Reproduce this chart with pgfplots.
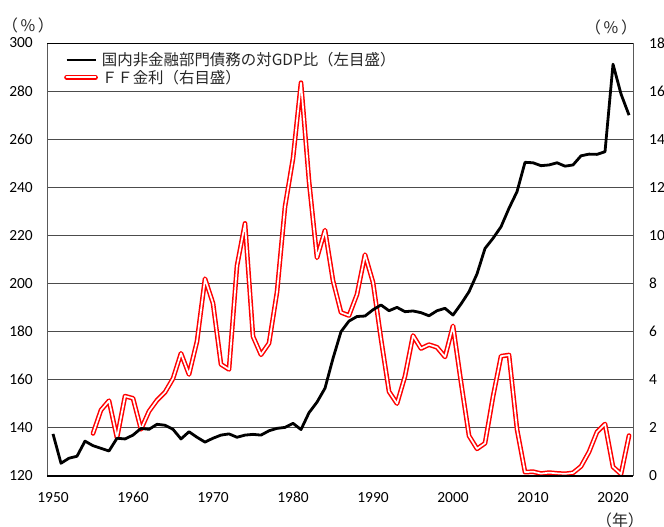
\documentclass[border=0pt]{standalone}
\usepackage{pgfplots}
\pgfplotsset{compat=1.18}
\usepackage{fontspec}
\setmainfont{Carlito}
\newfontfamily\jp{Noto Sans CJK JP}

\pgfplotstableread{
year val
1950 137.5
1951 125.3
1952 127.4
1953 128.2
1954 134.5
1955 132.6
1956 131.5
1957 130.4
1958 135.7
1959 135.4
1960 137.0
1961 139.8
1962 139.4
1963 141.5
1964 141.1
1965 139.4
1966 135.4
1967 138.4
1968 136.1
1969 134.1
1970 135.7
1971 137.0
1972 137.5
1973 136.1
1974 137.0
1975 137.3
1976 137.0
1977 138.8
1978 139.8
1979 140.2
1980 141.9
1981 139.3
1982 146.3
1983 150.7
1984 156.5
1985 168.9
1986 180.0
1987 184.4
1988 186.3
1989 186.5
1990 189.1
1991 191.1
1992 188.7
1993 190.1
1994 188.3
1995 188.6
1996 187.9
1997 186.6
1998 188.7
1999 189.7
2000 186.9
2001 191.5
2002 196.6
2003 204.0
2004 214.6
2005 218.8
2006 223.6
2007 231.3
2008 238.2
2009 250.4
2010 250.2
2011 249.0
2012 249.3
2013 250.2
2014 248.8
2015 249.3
2016 253.1
2017 253.8
2018 253.7
2019 254.8
2020 291.2
2021 278.8
2022 270.0
}\debttable

\pgfplotstableread{
year val
1955 1.77
1956 2.74
1957 3.13
1958 1.59
1959 3.32
1960 3.23
1961 1.94
1962 2.69
1963 3.15
1964 3.48
1965 4.05
1966 5.10
1967 4.22
1968 5.60
1969 8.20
1970 7.18
1971 4.64
1972 4.43
1973 8.74
1974 10.50
1975 5.80
1976 5.04
1977 5.52
1978 7.65
1979 11.20
1980 13.20
1981 16.35
1982 12.26
1983 9.07
1984 10.22
1985 8.12
1986 6.80
1987 6.67
1988 7.55
1989 9.20
1990 8.05
1991 5.70
1992 3.51
1993 3.01
1994 4.15
1995 5.84
1996 5.30
1997 5.46
1998 5.35
1999 4.95
2000 6.24
2001 3.90
2002 1.67
2003 1.13
2004 1.36
2005 3.30
2006 4.98
2007 5.03
2008 1.94
2009 0.16
2010 0.18
2011 0.10
2012 0.14
2013 0.11
2014 0.09
2015 0.13
2016 0.40
2017 1.00
2018 1.83
2019 2.16
2020 0.38
2021 0.08
2022 1.68
}\fftable

\begin{document}
\begin{tikzpicture}[x=1bp,y=1bp]
\useasboundingbox (0,0) rectangle (664,527);
\pgfplotsset{
  common/.style={
    scale only axis, width=586bp, height=433bp,
    at={(47bp,51bp)}, anchor=south west,
    xmin=1949.25, xmax=2022.5,
    /pgf/number format/assume math mode=true,
    /pgf/number format/1000 sep={},
    tick label style={font=\fontsize{15.5}{18}\selectfont, inner sep=0pt, text=black},
    clip=false,
  },
  ffstyle/.style={draw=red, double=white, double distance=1.7bp, line width=1.5bp, line join=round, line cap=round},
}
% right axis: FF rate + grid
\begin{axis}[common,
  axis x line=none, axis y line*=right,
  ymin=0, ymax=18, ytick={0,2,...,18},
  ytick style={draw=none},
  yticklabel style={anchor=west, xshift=16bp},
  ymajorgrids, grid style={black!70, line width=0.8bp},
  axis line style={draw=black!65, line width=0.8bp},
]
\addplot[ffstyle] table[x=year, y=val] {\fftable};
\end{axis}
% left axis: debt ratio
\begin{axis}[common,
  axis x line*=bottom, axis y line*=left,
  ymin=120, ymax=300, ytick={120,140,...,300},
  ytick style={draw=none},
  yticklabel style={anchor=east, xshift=-14bp},
  xtick={1950,1960,...,2020},
  xtick style={draw=none},
  xticklabel style={anchor=north, yshift=-16bp},
  extra x ticks={1954.5,1959.5,...,2019.5},
  extra x tick labels={},
  extra x tick style={tick align=inside, major tick length=5bp, tick style={draw=black, line width=0.8bp}},
  axis line style={draw=black!65, line width=0.8bp},
  legend style={at={(rel axis cs:0.029,0.978)}, anchor=north west, draw=none, fill=none,
    inner sep=0pt, font=\jp\fontsize{15.5}{18}\selectfont, text=black!85,
    row sep=2.5bp, nodes={inner sep=0pt}},
  legend cell align=left,
  legend image code/.code={\draw[#1] (0bp,0bp) -- (29bp,0bp);},
  /tikz/every odd column/.append style={column sep=4bp},
]
\addplot[black, line width=2.8bp, line join=round] table[x=year, y=val] {\debttable};
\addlegendentry{国内非金融部門債務の対GDP比（左目盛）}
\addlegendimage{ffstyle}
\addlegendentry{ＦＦ金利（右目盛）}
\draw[black, line width=0.8bp] (rel axis cs:0,1) -- (rel axis cs:1,1);
\draw[black, line width=1.8bp] (rel axis cs:0,0) -- (rel axis cs:1,0);
\end{axis}
\node[font=\jp\fontsize{16}{18}\selectfont, text=black!85] at (28,502) {（\,\%\,）};
\node[font=\jp\fontsize{16}{18}\selectfont, text=black!85] at (611,500) {（\,\%\,）};
\node[font=\jp\fontsize{16}{18}\selectfont, text=black!85] at (620,7) {（年）};
\end{tikzpicture}
\end{document}
